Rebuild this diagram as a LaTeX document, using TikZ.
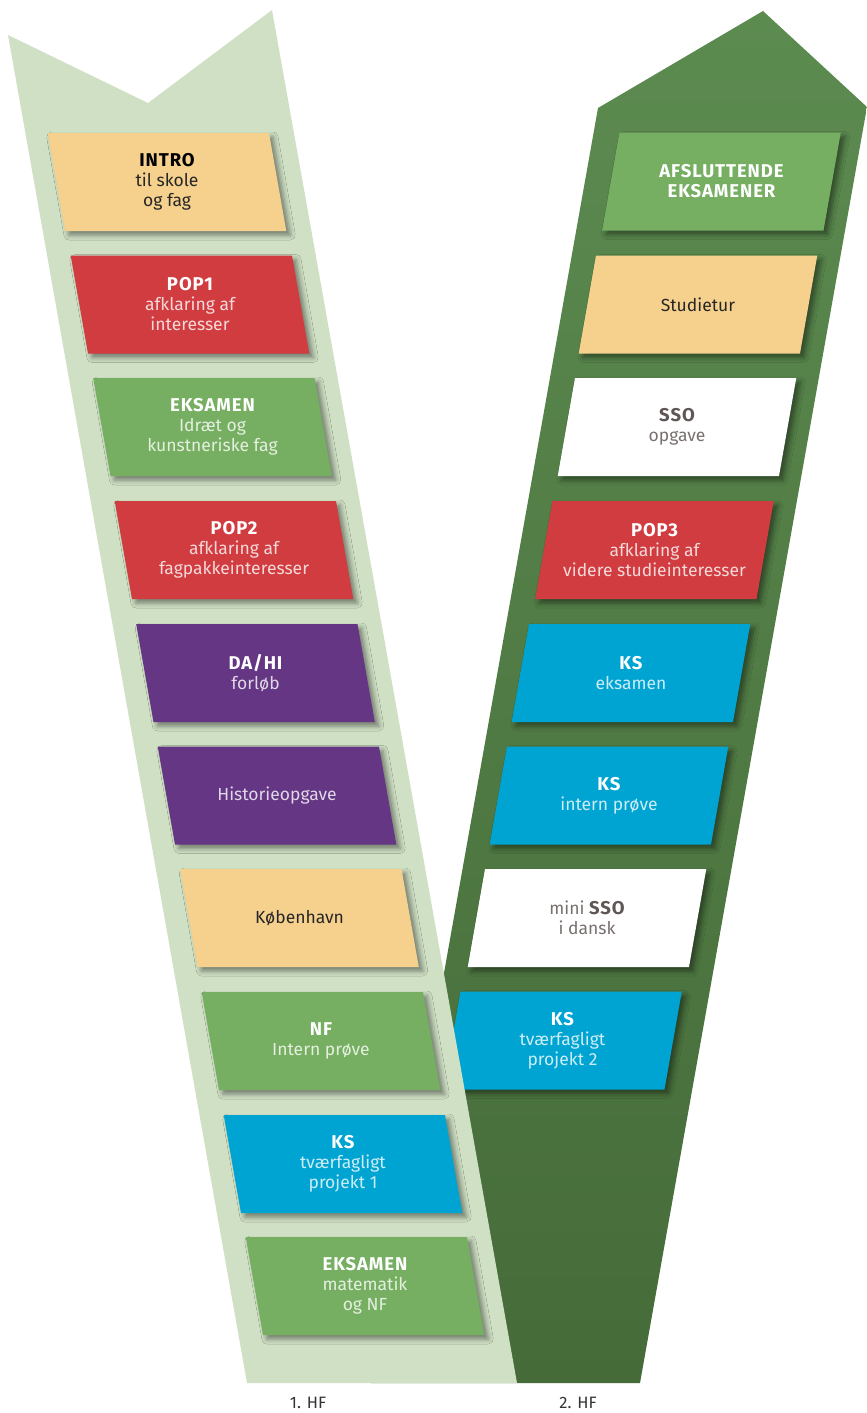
\documentclass[tikz,border=0pt]{standalone}
\usepackage{fontspec}
\setmainfont{Fira Sans}
\usetikzlibrary{shapes.geometric}
\usetikzlibrary{shadows.blur}
\definecolor{bandlight}{HTML}{CFE0C4}
\definecolor{banddarktop}{HTML}{5C8B50}
\definecolor{banddarkbot}{HTML}{456B39}
\definecolor{sand}{HTML}{F6D18E}
\definecolor{popred}{HTML}{D03C40}
\definecolor{exgreen}{HTML}{76AF62}
\definecolor{plum}{HTML}{643684}
\definecolor{ksblue}{HTML}{00A4D2}
\definecolor{ssogray}{HTML}{5F5755}
\newcommand\hd[1]{\textcolor{\hdcol}{\fontsize{18.5}{20}\selectfont\bfseries\addfontfeatures{LetterSpace=5}#1}}
\tikzset{card/.style={trapezium, inner xsep=102pt, inner ysep=49pt,
   blur shadow={shadow xshift=4pt, shadow yshift=-4pt,
     shadow blur radius=5pt, shadow opacity=45}}}
\tikzset{lcard/.style={card, trapezium left angle=100, trapezium right angle=80}}
\tikzset{rcard/.style={card, trapezium left angle=80, trapezium right angle=100}}
\tikzset{cardtext/.style={align=center, inner sep=0pt, font=\fontsize{17.5}{20}\selectfont}}
\tikzset{ontone/.style={cardtext, text=white!80!#1, execute at begin node={\def\hdcol{white}}}}
\tikzset{onsand/.style={cardtext, text=black!85, execute at begin node={\def\hdcol{black}}}}
\tikzset{onblank/.style={cardtext, text=ssogray!85, execute at begin node={\def\hdcol{ssogray}}}}
\tikzset{year/.style={font=\fontsize{16.5}{18}\selectfont, text=black!80}}

\begin{document}
\begin{tikzpicture}[x=1pt, y=-1pt]

    \useasboundingbox (0,0) rectangle (867,1413);

    % the two bands
    \shade[top color=banddarktop, bottom color=banddarkbot]
      (598,108) -- (763,11) -- (867,107) -- (640,1383) -- (371,1383) -- cycle;

    % 2. HF
    \node[rcard, fill=exgreen, label={[ontone=exgreen]center:{\hd{AFSLUTTENDE}\\\hd{EKSAMENER}}}] (afslut) at (721.5,181.5) {};
    \node[rcard, fill=sand, label={[onsand]center:Studietur}] (studietur) at (698,304.5) {};
    \node[rcard, fill=white, label={[onblank]center:{\hd{SSO}\\opgave}}] (sso) at (677,427) {};
    \node[rcard, fill=popred, label={[ontone=popred]center:{\hd{POP3}\\afklaring af\\videre studieinteresser}}] (popthree) at (654.5,550) {};
    \node[rcard, fill=ksblue, label={[ontone=ksblue]center:{\hd{KS}\\eksamen}}] (kseks) at (631,673) {};
    \node[rcard, fill=ksblue, label={[ontone=ksblue]center:{\hd{KS}\\intern prøve}}] (ksintern) at (609,795.5) {};
    \node[rcard, fill=white, label={[onblank]center:{mini \hd{SSO}\\i dansk}}] (minisso) at (587,918) {};
    \node[rcard, fill=ksblue, label={[ontone=ksblue]center:{\hd{KS}\\tværfagligt\\projekt 2}}] (kstwo) at (562.5,1040.5) {};

    \fill[bandlight] (8,35) -- (148,103) -- (272,10) -- (517,1383) -- (247,1383) -- cycle;

    % 1. HF
    \node[lcard, fill=sand, label={[onsand]center:{\hd{INTRO}\\til skole\\og fag}}] (intro) at (167,182) {};
    \node[lcard, fill=popred, label={[ontone=popred]center:{\hd{POP1}\\afklaring af\\interesser}}] (popone) at (190,304.5) {};
    \node[lcard, fill=exgreen, label={[ontone=exgreen]center:{\hd{EKSAMEN}\\Idræt og\\kunstneriske fag}}] (eksidraet) at (212.5,427) {};
    \node[lcard, fill=popred, label={[ontone=popred]center:{\hd{POP2}\\afklaring af\\fagpakkeinteresser}}] (poptwo) at (234,550) {};
    \node[lcard, fill=plum, label={[ontone=plum]center:{\hd{DA/HI}\\forløb}}] (dahi) at (255.5,673) {};
    \node[lcard, fill=plum, label={[ontone=plum]center:Historieopgave}] (histopg) at (277,795.5) {};
    \node[lcard, fill=sand, label={[onsand]center:København}] (kbh) at (299.5,918) {};
    \node[lcard, fill=exgreen, label={[ontone=exgreen]center:{\hd{NF}\\Intern prøve}}] (nfprove) at (321,1041) {};
    \node[lcard, fill=ksblue, label={[ontone=ksblue]center:{\hd{KS}\\tværfagligt\\projekt 1}}] (ksone) at (343,1164) {};
    \node[lcard, fill=exgreen, label={[ontone=exgreen]center:{\hd{EKSAMEN}\\matematik\\og NF}}] (eksmat) at (365,1286) {};

    \node[year] (hfone) at (308,1403) {1. HF};
    \node[year] (hftwo) at (578,1403) {2. HF};

  \end{tikzpicture}
\end{document}
